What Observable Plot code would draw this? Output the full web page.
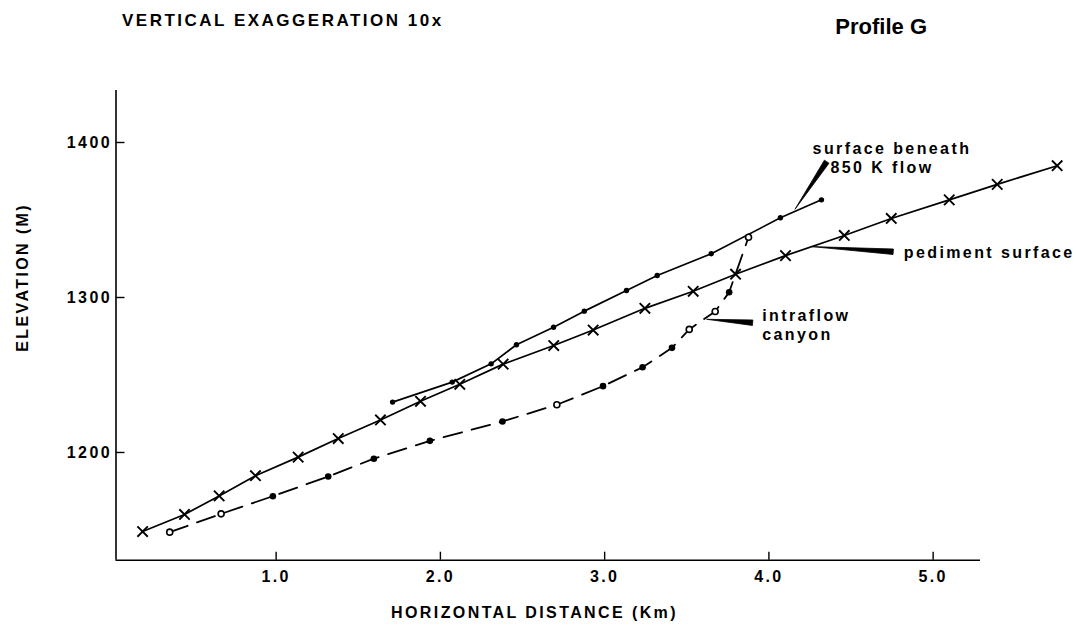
<!DOCTYPE html>
<html>
<head>
<meta charset="utf-8">
<script src="https://cdn.jsdelivr.net/npm/d3@7"></script>
<script src="https://cdn.jsdelivr.net/npm/@observablehq/plot@0.6"></script>
<style>
  html, body { margin: 0; padding: 0; background: #fff; }
  #wrap { position: relative; width: 1076px; height: 626px; font-family: "Liberation Sans", Arial, Helvetica, sans-serif; }
  #title { position: absolute; left: 122px; top: 12px; font-size: 17px; line-height: 17px; font-weight: bold; letter-spacing: 2.5px; color: #000; white-space: nowrap; }
  #profile { position: absolute; right: 149px; top: 16px; font-size: 22px; line-height: 22px; font-weight: bold; color: #000; white-space: nowrap; }
  svg text { letter-spacing: 2.4px; }
</style>
</head>
<body>
<div id="wrap">
  <div id="title">VERTICAL EXAGGERATION 10x</div>
  <div id="profile">Profile G</div>
</div>
<script>
// ---- data ----
const pedimentX = [0.187, 0.442, 0.653, 0.874, 1.134, 1.378, 1.635, 1.879, 2.118, 2.382, 2.690, 2.930, 3.245, 3.539, 3.797, 4.101, 4.459, 4.745, 5.098, 5.390, 5.755];
const pedimentY = [1149, 1160, 1172, 1185, 1197, 1209, 1221, 1233, 1244, 1257, 1269, 1279, 1293, 1304, 1315, 1327, 1340, 1351, 1363, 1373, 1385];

const flowX = [1.709, 2.072, 2.309, 2.463, 2.689, 2.876, 3.133, 3.320, 3.649, 4.070, 4.320];
const flowY = [1232.5, 1245.4, 1257.2, 1269.5, 1280.8, 1291.2, 1304.5, 1314.2, 1328.2, 1351.4, 1363];

const canyonX = [0.352, 0.665, 0.980, 1.317, 1.595, 1.936, 2.378, 2.709, 2.990, 3.231, 3.410, 3.515, 3.673, 3.758, 3.876];
const canyonY = [1148.6, 1160.4, 1171.8, 1184.5, 1196, 1207.5, 1220, 1230.8, 1242.8, 1255, 1267.5, 1279.4, 1291, 1303.4, 1338.9];
const canyonMarker = ["open", "open", "filled", "filled", "filled", "filled", "filled", "open", "filled", "filled", "filled", "open", "open", "filled", "open"];

const xTicks = [1, 2, 3, 4, 5];
const yTicks = [1200, 1300, 1400];
const xAxisExtent = [0.025, 5.288];
const yAxisExtent = [1130.5, 1433.5];

const annoText = ["surface beneath", "850 K flow", "pediment surface", "intraflow", "canyon"];
const annoX = [4.266, 4.375, 4.821, 3.959, 3.959];
const annoY = [1396.2, 1383.9, 1329.1, 1288.3, 1275.8];

const leaderX1 = [4.162, 4.264, 3.624];
const leaderY1 = [1356.6, 1332.5, 1285.6];
const leaderX2 = [4.355, 4.760, 3.904];
const leaderY2 = [1387.3, 1329.2, 1283.4];

const xTitle = "HORIZONTAL DISTANCE (Km)";
const yTitle = "ELEVATION (M)";

// ---- tables ----
const pediment = pedimentX.map((x, i) => ({x, y: pedimentY[i]}));
const flow = flowX.map((x, i) => ({x, y: flowY[i]}));
const canyon = canyonX.map((x, i) => ({x, y: canyonY[i], m: canyonMarker[i]}));
const annos = annoText.map((t, i) => ({t, x: annoX[i], y: annoY[i]}));

const FONT = '"Liberation Sans", Arial, Helvetica, sans-serif';

function wedges(index, scales) {
  const ns = "http://www.w3.org/2000/svg";
  const g = document.createElementNS(ns, "g");
  g.setAttribute("aria-label", "leaders");
  const W = 5.5;
  for (let i = 0; i < leaderX1.length; i++) {
    const x1 = scales.x(leaderX1[i]), y1 = scales.y(leaderY1[i]);
    const x2 = scales.x(leaderX2[i]), y2 = scales.y(leaderY2[i]);
    const dx = x2 - x1, dy = y2 - y1, L = Math.hypot(dx, dy);
    const nx = -dy / L * W / 2, ny = dx / L * W / 2;
    const p = document.createElementNS(ns, "path");
    p.setAttribute("d", `M${x1},${y1}L${x2 + nx},${y2 + ny}L${x2 - nx},${y2 - ny}Z`);
    p.setAttribute("fill", "#000");
    p.setAttribute("stroke", "#000");
    p.setAttribute("stroke-width", "0.8");
    p.setAttribute("stroke-linejoin", "round");
    g.appendChild(p);
  }
  return g;
}

const chart = Plot.plot({
  width: 1076,
  height: 626,
  marginLeft: 115.5,
  marginRight: 11.95,
  marginTop: 80,
  marginBottom: 66.3,
  x: {domain: [0.025, 5.8]},
  y: {domain: [1130.5, 1440]},
  style: {fontFamily: FONT, background: "transparent", color: "#000"},
  marks: [
    // axis lines
    Plot.ruleX([xAxisExtent[0]], {y1: yAxisExtent[0], y2: yAxisExtent[1], stroke: "#000", strokeWidth: 1.6}),
    Plot.ruleY([yAxisExtent[0]], {x1: xAxisExtent[0], x2: xAxisExtent[1], stroke: "#000", strokeWidth: 1.6}),
    Plot.axisY(yTicks, {anchor: "left", tickSize: -9, tickPadding: 13, tickFormat: d => String(d), label: null, fontSize: 16, fontWeight: "bold", strokeWidth: 1.4}),
    Plot.axisX(xTicks, {anchor: "bottom", tickSize: -8, tickPadding: 18, tickFormat: d3.format(".1f"), label: null, fontSize: 16, fontWeight: "bold", strokeWidth: 1.4}),
    // axis titles
    Plot.text([yTitle], {text: d => d, frameAnchor: "left", y: 1313, rotate: -90, dx: -93.5, textAnchor: "middle", lineAnchor: "middle", fontSize: 16, fontWeight: "bold"}),
    Plot.text([xTitle], {text: d => d, frameAnchor: "bottom", x: 2.573, dy: 53, textAnchor: "middle", lineAnchor: "middle", fontSize: 16, fontWeight: "bold"}),
    // series lines
    Plot.line(canyon, {x: "x", y: "y", stroke: "#000", strokeWidth: 1.8, strokeDasharray: "19,10"}),
    Plot.line(pediment, {x: "x", y: "y", stroke: "#000", strokeWidth: 1.7}),
    Plot.line(flow, {x: "x", y: "y", stroke: "#000", strokeWidth: 1.7}),
    // markers
    Plot.dot(pediment, {x: "x", y: "y", symbol: "times", r: 4.8, stroke: "#000", strokeWidth: 1.9}),
    Plot.dot(flow, {x: "x", y: "y", r: 2.7, fill: "#000", stroke: "none"}),
    Plot.dot(canyon.filter(d => d.m === "filled"), {x: "x", y: "y", r: 3.3, fill: "#000", stroke: "none"}),
    Plot.dot(canyon.filter(d => d.m === "open"), {x: "x", y: "y", r: 3, fill: "#fff", stroke: "#000", strokeWidth: 1.6}),
    // leaders and annotation text
    wedges,
    Plot.text(annos, {x: "x", y: "y", text: "t", textAnchor: "start", lineAnchor: "middle", fontSize: 16, fontWeight: "bold"})
  ]
});
chart.style.position = "absolute";
chart.style.left = "0";
chart.style.top = "0";
document.getElementById("wrap").prepend(chart);
</script>
</body>
</html>
